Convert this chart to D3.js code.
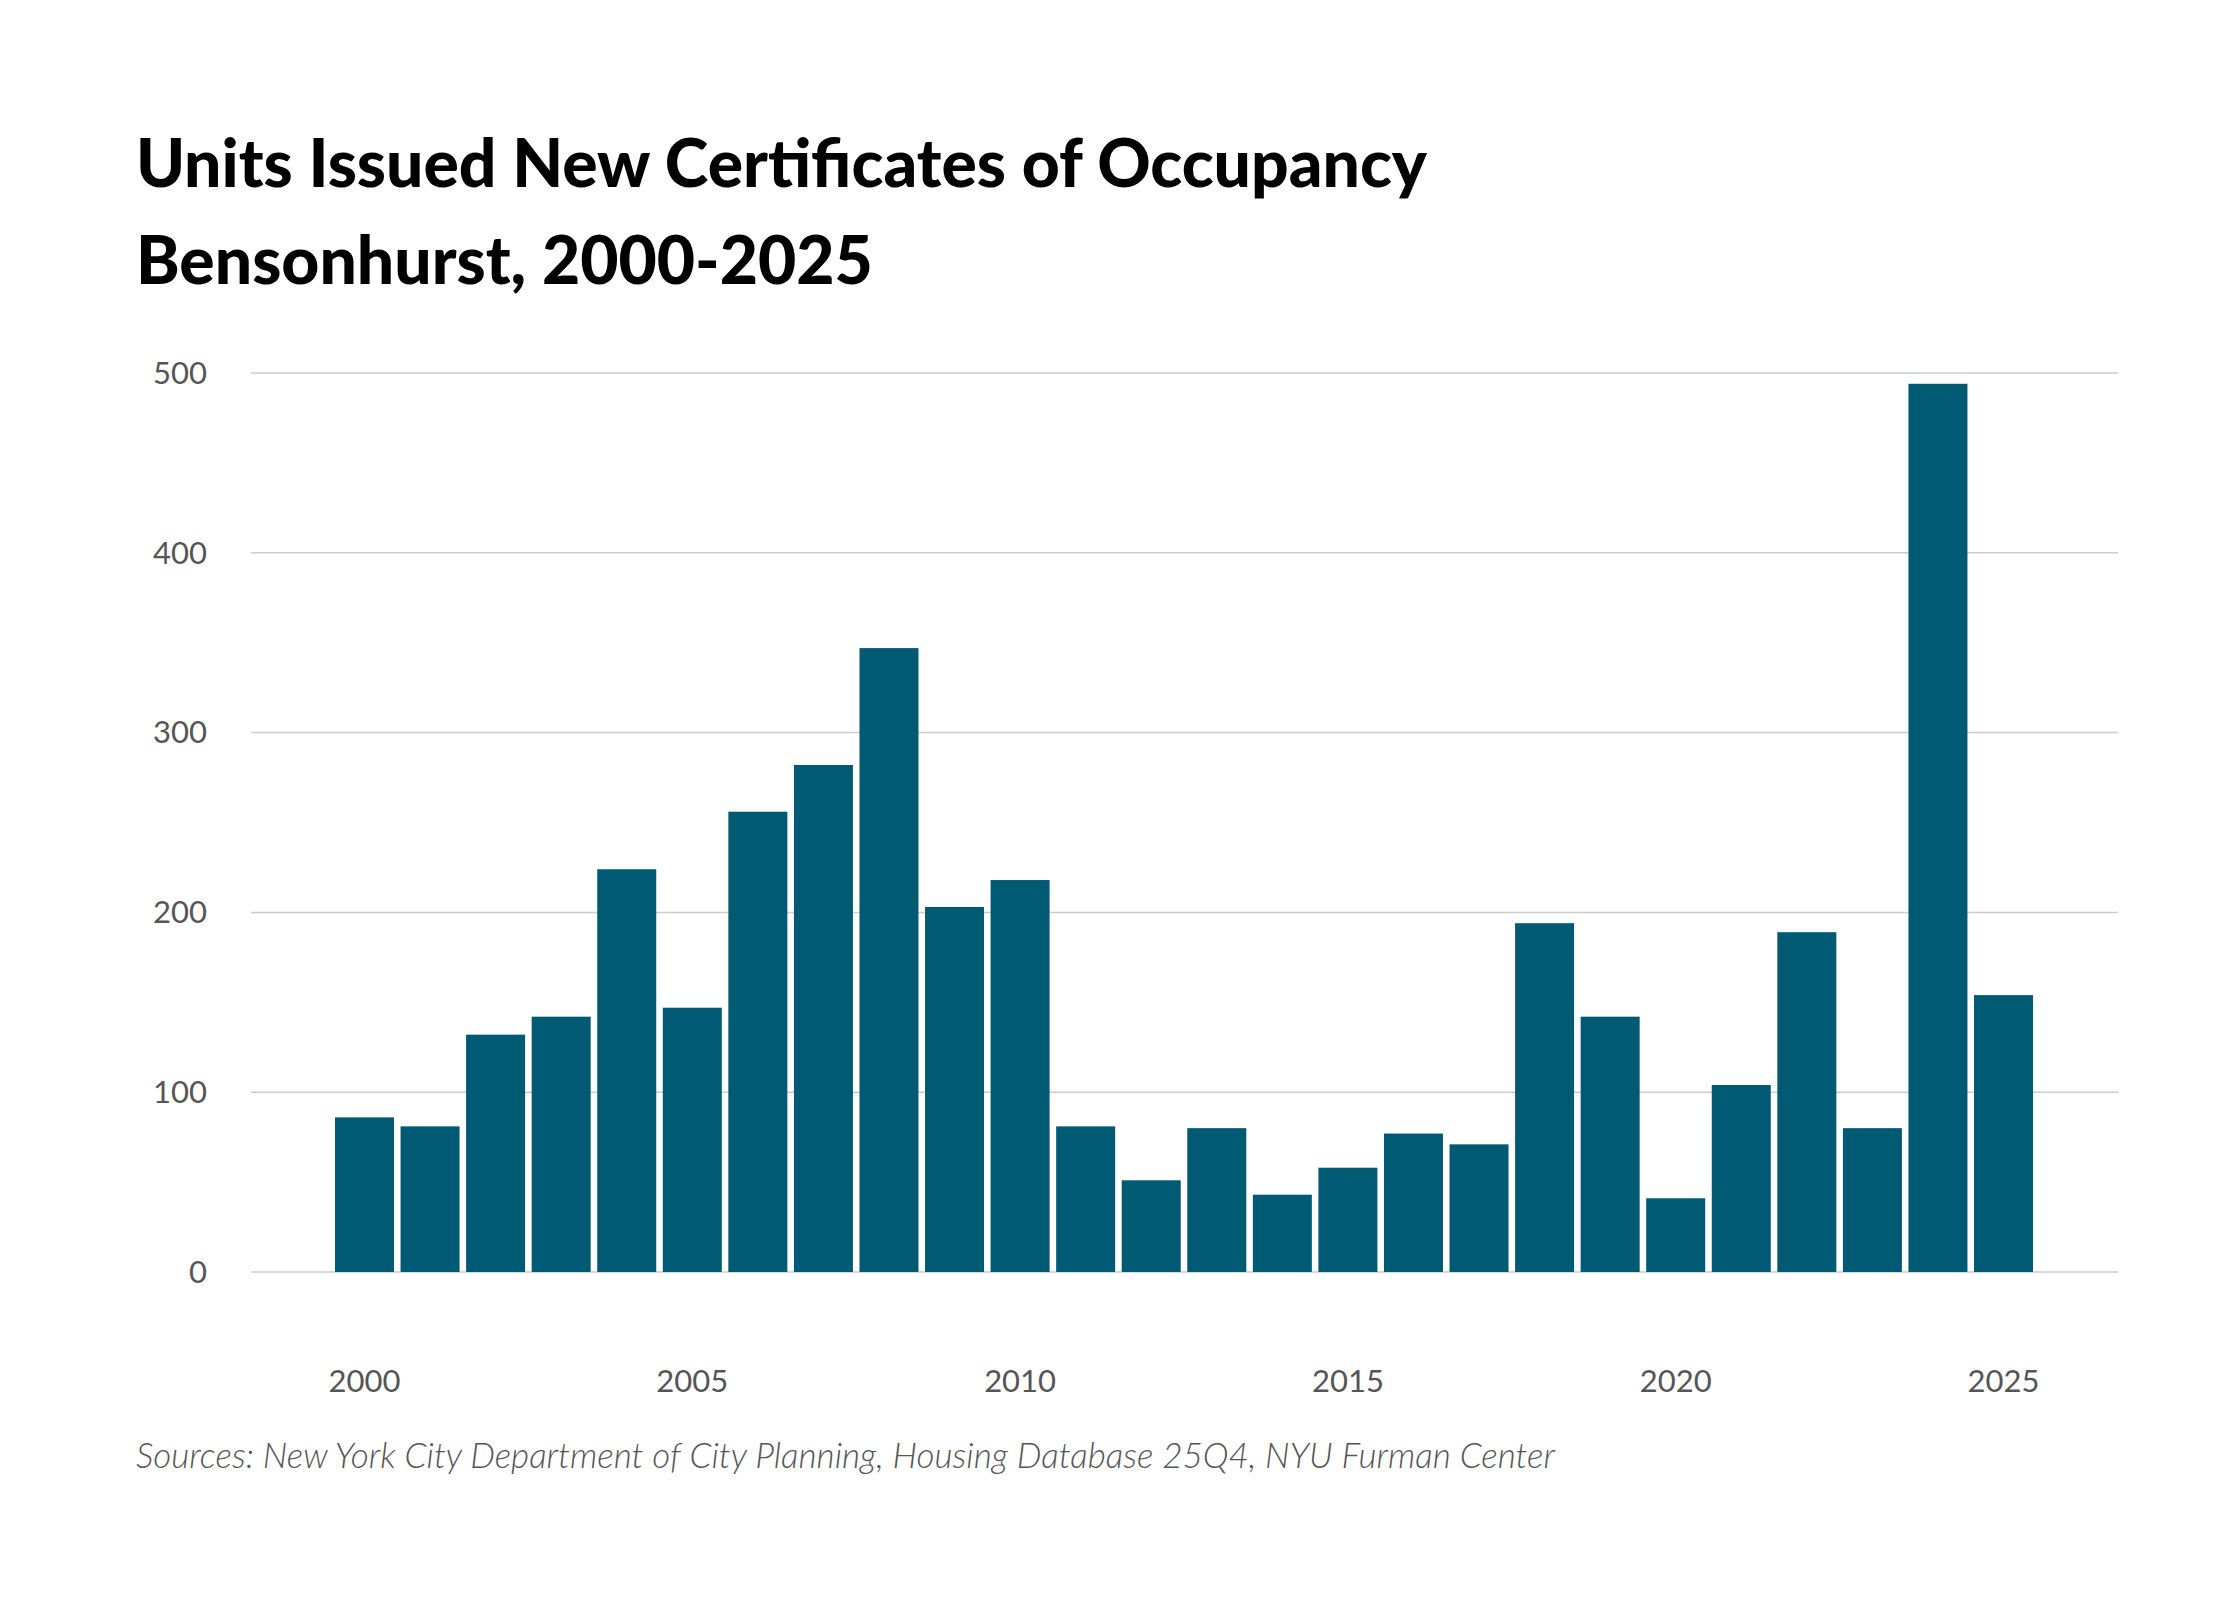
<!DOCTYPE html>
<html><head><meta charset="utf-8">
<script src="https://cdn.jsdelivr.net/npm/d3@7"></script>
<style>body{margin:0;background:#fff}</style>
</head><body>
<script>
const years = d3.range(2000, 2026);
const units = [86,81,132,142,224,147,256,282,347,203,218,81,51,80,43,58,77,71,194,142,41,104,189,80,494,154];
const yTicks = [0,100,200,300,400,500];
const xTickYears = [2000,2005,2010,2015,2020,2025];

const W=2240,H=1600;
const svg=d3.select("body").append("svg").attr("width",W).attr("height",H);
const x=d3.scaleBand().domain(years).range([331.7,2036.3]).paddingInner(0.1).paddingOuter(0.05);
const y=d3.scaleLinear().domain([0,500]).range([1272,373]);

svg.append("text").attr("x",136).attr("y",187).text("Units Issued New Certificates of Occupancy")
 .attr("font-family","Lato").attr("font-weight",900).attr("font-size",66).attr("fill","#000");
svg.append("text").attr("x",136).attr("y",284).text("Bensonhurst, 2000-2025")
 .attr("font-family","Lato").attr("font-weight",900).attr("font-size",66).attr("fill","#000");

svg.append("g").selectAll("line").data(yTicks).join("line")
 .attr("x1",251).attr("x2",2118).attr("y1",d=>y(d)).attr("y2",d=>y(d))
 .attr("stroke","#cccccc").attr("stroke-width",1.5);
svg.append("g").selectAll("text").data(yTicks).join("text")
 .attr("x",207).attr("y",d=>y(d)).attr("dy","0.35em").attr("text-anchor","end")
 .attr("font-family","Lato").attr("font-size",31).attr("fill","#555").text(d=>d);

svg.append("g").selectAll("rect").data(years).join("rect")
 .attr("x",d=>x(d)).attr("width",x.bandwidth())
 .attr("y",(d,i)=>y(units[i])).attr("height",(d,i)=>y(0)-y(units[i]))
 .attr("fill","#005a74");

svg.append("g").selectAll("text").data(xTickYears).join("text")
 .attr("x",d=>x(d)+x.bandwidth()/2).attr("y",1381).attr("dy","0.35em").attr("text-anchor","middle")
 .attr("font-family","Lato").attr("font-size",31).attr("fill","#555").text(d=>d);

svg.append("text").attr("x",136).attr("y",1468)
 .text("Sources: New York City Department of City Planning, Housing Database 25Q4, NYU Furman Center")
 .attr("font-family","Lato").attr("font-style","italic").attr("font-weight",300).attr("font-size",35).attr("fill","#555");
</script>
</body></html>
